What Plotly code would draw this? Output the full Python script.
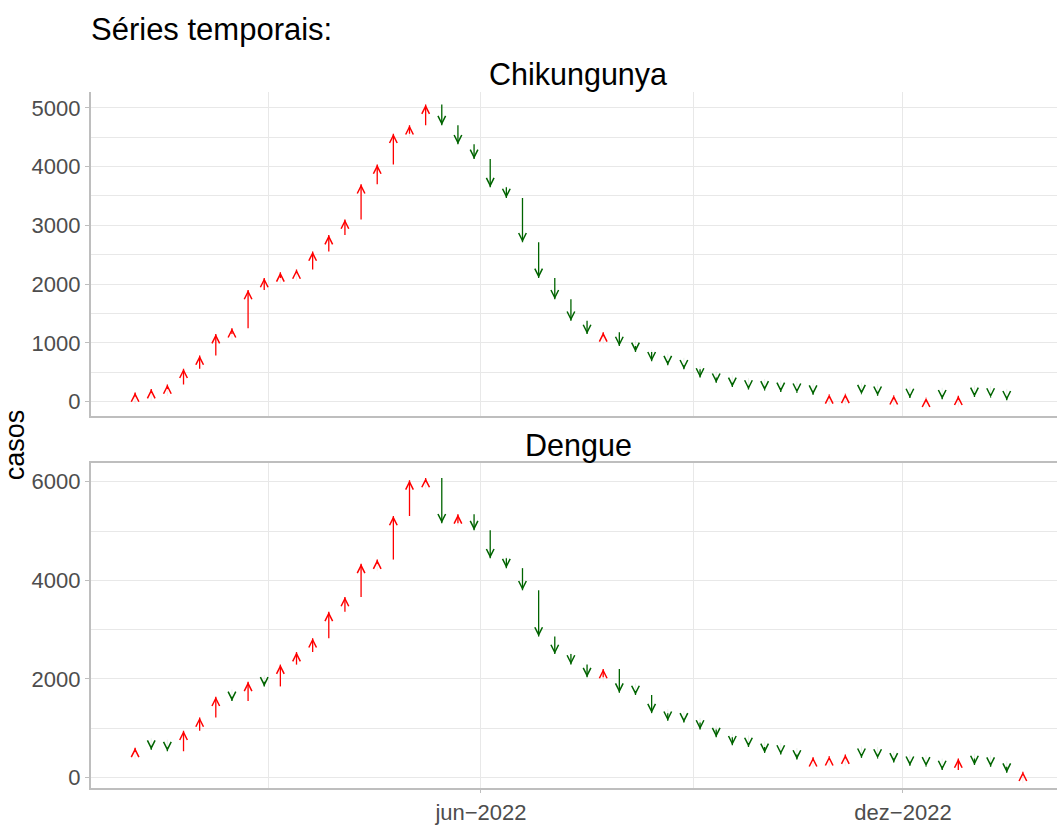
import pandas as pd
import plotly.graph_objects as go

# weekly case counts, first value is the week before the first arrow
weeks = pd.date_range("2022-01-02", periods=56, freq="7D")

chik_cases = [
    110, 155, 213, 292, 560, 785, 1150, 1250, 1900, 2105, 2200, 2250, 2555,
    2835, 3100, 3700, 4035, 4560, 4705, 5055, 4705, 4380, 4130, 3650, 3465,
    2710, 2105, 1740, 1375, 1150, 1180, 945, 845, 685, 620, 550, 410, 320,
    250, 205, 190, 165, 150, 118, 124, 132, 126, 100, 108, 60, 66, 40, 100,
    80, 68, 22,
]
dengue_cases = [
    520, 603, 565, 536, 951, 1219, 1641, 1554, 1943, 1849, 2291, 2546, 2827,
    3363, 3665, 4335, 4422, 5306, 6030, 6077, 5159, 5340, 5018, 4449, 4248,
    3799, 2861, 2506, 2291, 2037, 2204, 1722, 1675, 1307, 1152, 1119, 974,
    820, 654, 620, 500, 467, 367, 413, 433, 467, 400, 387, 307, 240, 227,
    153, 387, 253, 220, 100, 120,
]

panels = [
    ("Chikungunya", chik_cases, "x", "y"),
    ("Dengue", dengue_cases, "x2", "y2"),
]

UP = "#FF0000"
DOWN = "#006400"
FONT = "Liberation Sans, Arial, sans-serif"
GRID = "#E8E8E8"
AXIS = "#BEBEBE"

W, H = 1057, 825
# the page comes out ~1% taller than the figure and is squeezed back into
# the window, so stretch vertical positions by that much beforehand
K = 1 / 0.99


def py(y):
    """pixel row (from top) -> paper fraction"""
    return 1 - y * K / H


fig = go.Figure()
heads = []

for name, cases, xref, yref in panels:
    dates = weeks[: len(cases) - 1]
    starts = cases[:-1]
    ends = cases[1:]

    # shafts: one line trace per direction, segments split by None
    for color, rising in [(UP, True), (DOWN, False)]:
        xs, ys = [], []
        for d, s, e in zip(dates, starts, ends):
            if (e > s) == rising:
                xs += [d, d, None]
                ys += [s, e, None]
        fig.add_trace(
            go.Scatter(
                x=xs, y=ys, mode="lines",
                line=dict(color=color, width=1.3),
                xaxis=xref, yaxis=yref,
                hoverinfo="skip", showlegend=False,
            )
        )

    fig.add_trace(
        go.Scatter(
            x=dates, y=ends, mode="markers",
            marker=dict(size=6, opacity=0),
            xaxis=xref, yaxis=yref, showlegend=False,
            hovertemplate="%{x|%d/%m/%Y}<br>casos: %{y}<extra>" + name + "</extra>",
        )
    )

    # open arrow heads at this week's value (the annotation's own shaft is hidden)
    for d, s, e in zip(dates, starts, ends):
        heads.append(
            dict(
                x=d, y=e, xref=xref, yref=yref,
                ax=0, ay=12 if e > s else -12,
                text="", font=dict(size=1), borderpad=0,
                showarrow=True,
                arrowhead=5, arrowwidth=0.1, arrowsize=15,
                arrowcolor=UP if e > s else DOWN,
            )
        )

# labels
texts = [
    dict(text="Séries temporais:", x=89 / W, y=py(30), xanchor="left",
         font=dict(size=31, color="black")),
    dict(text="Chikungunya", x=578 / W, y=py(75), xanchor="center",
         font=dict(size=30.5, color="black")),
    dict(text="Dengue", x=578 / W, y=py(450), xanchor="center",
         font=dict(size=30.5, color="black")),
    dict(text="casos", x=15 / W, y=py(450), xanchor="center", textangle=-90,
         font=dict(size=27, color="black")),
]
for t in texts:
    t.update(xref="paper", yref="paper", yanchor="middle", showarrow=False)

xrange = ["2021-12-13 18:00", "2023-02-05 19:00"]
xdomain = [90.7 / W, 1]

xcommon = dict(
    type="date", range=xrange, domain=xdomain,
    tickvals=["2022-06-01", "2022-12-01"], ticktext=["jun−2022", "dez−2022"],
    showgrid=True, gridcolor=GRID, gridwidth=1.2,
    minor=dict(tickvals=["2022-03-01", "2022-09-01"], showgrid=True,
               gridcolor=GRID, gridwidth=1.2),
    showline=True, linecolor=AXIS, linewidth=1.5, zeroline=False,
    tickfont=dict(size=22, color="#4D4D4D"),
)
ycommon = dict(
    showgrid=True, gridcolor=GRID, gridwidth=1.2,
    showline=True, linecolor=AXIS, linewidth=1.5, zeroline=False,
    ticks="outside", ticklen=4, tickcolor=AXIS,
    tickfont=dict(size=22, color="#4D4D4D"),
)

fig.update_layout(
    width=W, height=H,
    margin=dict(l=0, r=0, t=0, b=0),
    paper_bgcolor="white", plot_bgcolor="white",
    font=dict(family=FONT), showlegend=False,
    annotations=heads + texts,
    xaxis=dict(xcommon, anchor="y", showticklabels=False, ticks=""),
    xaxis2=dict(xcommon, anchor="y2", ticks="outside", ticklen=3,
                tickcolor=AXIS, mirror=True),
    yaxis=dict(ycommon, anchor="x", domain=[py(421), py(93)],
               range=[-253, 5269], tickvals=[0, 1000, 2000, 3000, 4000, 5000],
               minor=dict(tickvals=[500, 1500, 2500, 3500, 4500], showgrid=True,
                          gridcolor=GRID, gridwidth=1.2)),
    yaxis2=dict(ycommon, anchor="x2", domain=[py(797), py(468)],
                range=[-221, 6381], tickvals=[0, 2000, 4000, 6000],
                minor=dict(tickvals=[1000, 3000, 5000], showgrid=True,
                           gridcolor=GRID, gridwidth=1.2)),
)

# no body margin and no scrollbars, so the figure sits in the window corner
fig.write_html(
    "out.html",
    config={"displayModeBar": False},
    post_script=(
        "document.body.style.margin = '0';"
        "document.body.style.overflow = 'hidden';"
        "document.documentElement.style.overflow = 'hidden';"
    ),
)
